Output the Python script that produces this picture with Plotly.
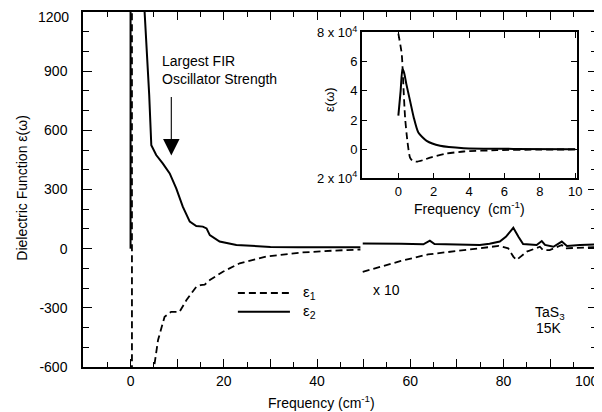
import plotly.graph_objects as go

# ---- main panel data (cm^-1 , epsilon) ; None separates segments ----
eps1_x = [0.3, 0.3, None, 4.8, 5.9, 7.3, 8.7, 10.5, 12.0, 14.1, 15.0, 15.9, 17.0, 19.8, 23.4, 29.1, 36.3, 43.4, 49.3]
eps1_y = [1250, -650, None, -640, -463, -345, -320, -320, -260, -193, -185, -182, -159, -117, -74, -40, -20, -10, -4]

eps1x10_x = [49.8, 53.5, 58.0, 63.8, 70.0, 76.4, 79.0, 81.0, 82.1, 82.8, 84.2, 85.0, 87.8, 88.5, 89.9, 92.5, 93.2, 96.4, 100.0]
eps1x10_y = [-117, -91, -62, -29, -12, 8, 14, 2, -40, -57, -30, -15, 10, -7, -7, 19, 2, 5, 8]

eps2_x = [0.0, 0.0, None, 2.9, 3.5, 4.0, 4.45, 5.5, 6.9, 8.4, 9.8, 11.2, 12.7, 14.1, 15.5, 16.3, 17.0, 19.1, 22.7, 25.6, 30.0, 36.0, 43.0, 49.3]
eps2_y = [0, 1250, None, 1250, 1000, 780, 525, 475, 433, 382, 306, 213, 137, 115, 112, 103, 69, 36, 19, 14, 9, 7, 7, 7]

eps2x10_x = [49.8, 53.5, 58.0, 62.8, 64.2, 65.2, 70.0, 74.9, 77.0, 79.2, 80.5, 81.5, 82.1, 83.2, 84.2, 87.1, 88.2, 88.9, 90.7, 92.5, 93.6, 96.4, 100.0]
eps2x10_y = [27, 27, 25, 22, 41, 24, 21, 19, 25, 36, 60, 90, 106, 61, 24, 19, 39, 19, 10, 36, 14, 19, 22]

# ---- inset data (cm^-1 , epsilon / 1e4) ----
in_eps1_x = [0.0, 0.19, 0.28, 0.38, 0.51, 0.66, 0.8, 1.04, 1.4, 1.79, 2.73, 3.7, 5.57, 8.0, 10.0]
in_eps1_y = [7.93, 6.55, 4.48, 2.18, 0.57, -0.58, -0.8, -0.86, -0.75, -0.58, -0.3, -0.16, -0.07, -0.03, -0.02]
in_eps2_x = [0.0, 0.13, 0.23, 0.32, 0.45, 0.66, 0.87, 1.13, 1.6, 2.36, 3.7, 6.5, 10.0]
in_eps2_y = [2.3, 4.0, 5.5, 5.28, 4.48, 3.33, 2.18, 1.14, 0.57, 0.23, 0.07, 0.02, 0.0]

x_tickvals = [-10, 0, 10, 20, 30, 40, 50, 60, 70, 80, 90, 100]
x_ticktext = ["", "0", "", "20", "", "40", "", "60", "", "80", "", ""]
x_last_label = "100"
y_tickvals = [-600, -300, 0, 300, 600, 900, 1200]
y_ticktext = ["-600", "-300", "0", "300", "600", "900", ""]
y_top_label = "1200"
in_x_tickvals = [0, 2, 4, 6, 8, 10]
in_y_tickvals = [-2, 0, 2, 4, 6, 8]
in_y_ticktext = ["2 x 10<sup>4</sup>", "0", "2", "4", "6", "8 x 10<sup>4</sup>"]

FONT = "Liberation Sans, Arial, sans-serif"
DASH = "7px,4px"

fig = go.Figure()
fig.add_trace(go.Scatter(x=eps1_x, y=eps1_y, mode="lines", line=dict(color="black", width=1.8, dash=DASH), connectgaps=False))
fig.add_trace(go.Scatter(x=eps1x10_x, y=eps1x10_y, mode="lines", line=dict(color="black", width=1.8, dash=DASH)))
fig.add_trace(go.Scatter(x=eps2_x, y=eps2_y, mode="lines", line=dict(color="black", width=2), connectgaps=False))
fig.add_trace(go.Scatter(x=eps2x10_x, y=eps2x10_y, mode="lines", line=dict(color="black", width=2)))

fig.add_trace(go.Scatter(x=in_eps1_x, y=in_eps1_y, mode="lines", xaxis="x2", yaxis="y2",
                         line=dict(color="black", width=1.8, dash=DASH, shape="spline", smoothing=0.6)))
fig.add_trace(go.Scatter(x=in_eps2_x, y=in_eps2_y, mode="lines", xaxis="x2", yaxis="y2",
                         line=dict(color="black", width=2, shape="spline", smoothing=0.6)))

axis_common = dict(showgrid=False, zeroline=False, showline=True, linecolor="black", linewidth=1.5,
                   mirror="ticks", ticks="inside", tickcolor="black", tickwidth=1.3, automargin=False,
                   ticklabeloverflow="allow",
                   tickfont=dict(family=FONT, size=14, color="black"))
inset_font = dict(family=FONT, size=13, color="black")

# the page body offsets the figure by 8px, so the figure is 8px smaller on each side
fig.update_layout(
    width=594, height=404,
    margin=dict(l=75.3, r=5.3, t=4, b=45, autoexpand=False),
    paper_bgcolor="white", plot_bgcolor="white",
    showlegend=False,
    font=dict(family=FONT, color="black"),
    xaxis=dict(range=[-10.2, 100.05], tickmode="array", tickvals=x_tickvals, ticktext=x_ticktext, ticklen=8,
               minor=dict(tickvals=[-5, 5, 15, 25, 35, 45, 55, 65, 75, 85, 95], ticklen=5, ticks="inside",
                          tickcolor="black", tickwidth=1.3),
               **axis_common),
    yaxis=dict(range=[-600, 1200.5], tickmode="array", tickvals=y_tickvals, ticktext=y_ticktext, ticklen=9,
               ticklabelstandoff=11,
               minor=dict(dtick=100, ticklen=6, ticks="inside", tickcolor="black", tickwidth=1.3),
               **axis_common),
    xaxis2=dict(domain=[0.5423, 0.961], anchor="y2", range=[-2.07, 10.1], tickmode="array",
                tickvals=in_x_tickvals, ticklen=6,
                title=dict(text="Frequency  (cm<sup>-1</sup>)", font=dict(size=14, family=FONT), standoff=0),
                **{**axis_common, "tickfont": inset_font}),
    yaxis2=dict(domain=[0.5315, 0.9428], anchor="x2", range=[-2, 8.02], tickmode="array",
                tickvals=in_y_tickvals, ticktext=in_y_ticktext, ticklen=6,
                **{**axis_common, "tickfont": inset_font}),
)

# legend (drawn manually to match the long sample lines)
fig.add_shape(type="line", xref="paper", yref="paper", x0=0.3013, x1=0.4026, y0=0.2085, y1=0.2085,
              line=dict(color="black", width=1.8, dash=DASH))
fig.add_shape(type="line", xref="paper", yref="paper", x0=0.3013, x1=0.4026, y0=0.1558, y1=0.1558,
              line=dict(color="black", width=2))
ann = [
    dict(text="ε<sub>1</sub>", x=0.425, y=0.2085, xanchor="left", yanchor="middle", font=dict(size=15)),
    dict(text="ε<sub>2</sub>", x=0.425, y=0.1558, xanchor="left", yanchor="middle", font=dict(size=15)),
    dict(text="x 10", x=0.5896, y=0.2169, xanchor="center", yanchor="middle", font=dict(size=14)),
    dict(text="TaS<sub>3</sub>", x=0.909, y=0.153, xanchor="center", yanchor="middle", font=dict(size=14)),
    dict(text="15K", x=0.906, y=0.110, xanchor="center", yanchor="middle", font=dict(size=14)),
    dict(text="Largest FIR<br>Oscillator Strength", x=0.1494, y=0.8366, xanchor="left", yanchor="middle",
         align="left", font=dict(size=14)),
    dict(text="Frequency (cm<sup>-1</sup>)", x=0.464, y=-0.0986, xanchor="center", yanchor="middle",
         font=dict(size=14)),
    dict(text=x_last_label, x=0.98, y=-0.0394, xanchor="center", yanchor="middle", font=dict(size=14)),
    dict(text=y_top_label, x=-0.0245, y=1.0113, xanchor="right", yanchor="top", font=dict(size=14),
         borderpad=0),
    dict(text="Dielectric Function ε(ω)", x=-0.1194, y=0.504, xanchor="center", yanchor="middle",
         textangle=-90, font=dict(size=14)),
    dict(text="ε(ω)", x=0.4805, y=0.755, xanchor="center", yanchor="middle", textangle=-90,
         font=dict(size=13)),
]
for a in ann:
    fig.add_annotation(xref="paper", yref="paper", showarrow=False, **a)

# arrow pointing at the shoulder
fig.add_annotation(x=8.74, y=473, xref="x", yref="y", text="", showarrow=True, ax=0, ay=-60,
                   arrowhead=2, arrowsize=3, arrowwidth=1.1, arrowcolor="black")

fig.write_html("out.html")
